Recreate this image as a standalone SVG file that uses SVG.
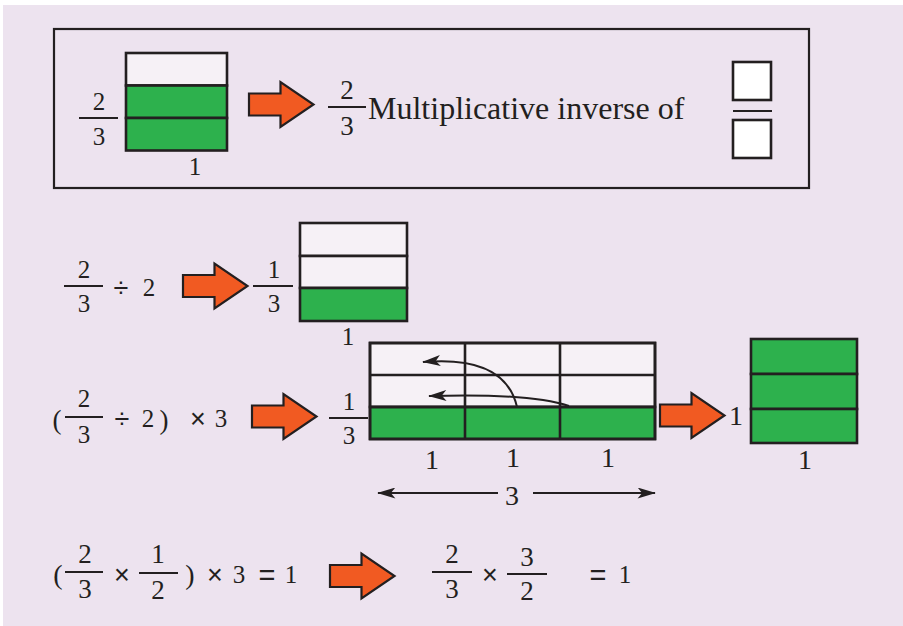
<svg xmlns="http://www.w3.org/2000/svg" width="903" height="626" viewBox="0 0 903 626">
<style>
  text { font-family: "Liberation Serif", "Times New Roman", serif; fill: #231f20; text-anchor: middle; }
  .t25 { font-size: 25px; }
  .t27 { font-size: 27px; }
  .t28 { font-size: 28px; }
  .t24 { font-size: 24px; }
  .sym { font-family: "Liberation Sans", Arial, sans-serif; font-size: 27px; }
  .eq { font-family: "Liberation Sans", Arial, sans-serif; font-size: 29px; }
  .big { font-size: 32px; text-anchor: start; }
  .ln { stroke: #231f20; stroke-width: 2.2; fill: none; }
  .cell { stroke: #231f20; stroke-width: 2.6; }
  .w { fill: #f6f1f6; }
  .g { fill: #2db14d; }
  .wb { fill: #ffffff; stroke: #231f20; stroke-width: 2.6; }
  .frame { fill: none; stroke: #231f20; stroke-width: 2.2; }
  .oarrow { fill: #f15a22; stroke: #231f20; stroke-width: 2.2; stroke-linejoin: miter; }
  .thin { stroke: #231f20; stroke-width: 2; fill: none; }
</style>
<defs>
  <path id="bigArrow" d="M0,-11 L31.5,-11 L31.5,-22.5 L64.5,0 L31.5,22.5 L31.5,11 L0,11 Z"/>
  <marker id="head" viewBox="0 0 20 12" refX="19" refY="6" markerWidth="19" markerHeight="11" markerUnits="userSpaceOnUse" orient="auto-start-reverse">
    <path d="M20,6 L0,0 L5,6 L0,12 Z" fill="#231f20"/>
  </marker>
</defs>

<rect x="3" y="5" width="900" height="621" fill="#ede3ef"/>

<g id="top-box">
  <rect class="frame" x="54" y="29" width="755" height="159"/>
</g>

<g id="bar-two-thirds">
  <line class="ln" x1="79" y1="118" x2="118" y2="118"/>
  <text class="t25" x="99" y="110">2</text>
  <text class="t25" x="99" y="145">3</text>
  <rect class="cell w" x="126" y="53" width="101" height="32.5"/>
  <rect class="cell g" x="126" y="85.5" width="101" height="32.5"/>
  <rect class="cell g" x="126" y="118" width="101" height="32.5"/>
  <text class="t25" x="195" y="175">1</text>
</g>

<g id="inverse-text">
  <line class="ln" x1="328" y1="107" x2="366" y2="107"/>
  <text class="t27" x="347" y="99">2</text>
  <text class="t27" x="347" y="135">3</text>
  <text class="big" x="368" y="119">Multiplicative inverse of</text>
</g>

<g id="blank-fraction">
  <rect class="wb" x="733" y="62" width="38" height="38"/>
  <line class="ln" x1="733" y1="111" x2="772" y2="111"/>
  <rect class="wb" x="733" y="120" width="38" height="38"/>
</g>

<g id="row2-expr">
  <line class="ln" x1="64" y1="286" x2="103" y2="286"/>
  <text class="t25" x="84" y="278">2</text>
  <text class="t25" x="84" y="312">3</text>
  <text class="sym" x="121" y="297">÷</text>
  <text class="t25" x="149" y="296">2</text>
</g>

<g id="row2-bar">
  <line class="ln" x1="253" y1="286" x2="293" y2="286"/>
  <text class="t25" x="274" y="278">1</text>
  <text class="t25" x="274" y="312">3</text>
  <rect class="cell w" x="300" y="223" width="107" height="33"/>
  <rect class="cell w" x="300" y="256" width="107" height="32"/>
  <rect class="cell g" x="300" y="288" width="107" height="33"/>
  <text class="t25" x="348" y="345">1</text>
</g>

<g id="row3-expr">
  <text class="t27" x="57" y="429">(</text>
  <line class="ln" x1="65" y1="417" x2="103" y2="417"/>
  <text class="t25" x="84" y="407">2</text>
  <text class="t25" x="84" y="443">3</text>
  <text class="sym" x="122" y="428">÷</text>
  <text class="t25" x="148" y="427">2</text>
  <text class="t27" x="164" y="429">)</text>
  <text class="sym" x="198" y="428">×</text>
  <text class="t25" x="221" y="427">3</text>
</g>

<g id="row3-grid">
  <line class="ln" x1="329" y1="418" x2="368" y2="418"/>
  <text class="t25" x="349" y="410">1</text>
  <text class="t25" x="349" y="444">3</text>
  <rect class="cell w" x="370" y="343" width="285" height="64"/>
  <rect class="cell g" x="370" y="407" width="285" height="32"/>
  <line class="cell" x1="370" y1="375" x2="655" y2="375"/>
  <line class="cell" x1="370" y1="407" x2="655" y2="407"/>
  <line class="cell" x1="465" y1="343" x2="465" y2="439"/>
  <line class="cell" x1="560" y1="343" x2="560" y2="439"/>
  <rect class="cell" x="370" y="343" width="285" height="96" fill="none"/>
  <text class="t28" x="432" y="469">1</text>
  <text class="t28" x="513" y="467">1</text>
  <text class="t28" x="608" y="467">1</text>
  <text class="t28" x="512" y="505">3</text>
</g>

<g id="row3-whole">
  <text class="t28" x="736" y="425">1</text>
  <rect class="cell g" x="751" y="339" width="106" height="35"/>
  <rect class="cell g" x="751" y="374" width="106" height="35"/>
  <rect class="cell g" x="751" y="409" width="106" height="34"/>
  <text class="t28" x="805" y="469">1</text>
</g>

<g id="row4-left">
  <text class="t28" x="58" y="584">(</text>
  <line class="ln" x1="65" y1="572" x2="103" y2="572"/>
  <text class="t27" x="85" y="563">2</text>
  <text class="t27" x="85" y="598">3</text>
  <text class="sym" x="122" y="584">×</text>
  <line class="ln" x1="139" y1="573" x2="178" y2="573"/>
  <text class="t27" x="158" y="563">1</text>
  <text class="t27" x="158" y="599">2</text>
  <text class="t28" x="190" y="584">)</text>
  <text class="sym" x="215" y="584">×</text>
  <text class="t25" x="239" y="583">3</text>
  <text class="eq" x="267" y="585">=</text>
  <text class="t25" x="291" y="583">1</text>
</g>

<g id="row4-right">
  <line class="ln" x1="432" y1="572" x2="472" y2="572"/>
  <text class="t27" x="452" y="563">2</text>
  <text class="t27" x="452" y="598">3</text>
  <text class="sym" x="490" y="584">×</text>
  <line class="ln" x1="507" y1="574" x2="547" y2="574"/>
  <text class="t27" x="527" y="566">3</text>
  <text class="t27" x="527" y="600">2</text>
  <text class="eq" x="598" y="585">=</text>
  <text class="t25" x="625" y="583">1</text>
</g>

<g id="connectors">
  <use href="#bigArrow" class="oarrow" transform="translate(249,104.5)"/>
  <use href="#bigArrow" class="oarrow" transform="translate(183,286)"/>
  <use href="#bigArrow" class="oarrow" transform="translate(252,416.5)"/>
  <use href="#bigArrow" class="oarrow" transform="translate(660,415.5)"/>
  <use href="#bigArrow" class="oarrow" transform="translate(330,576)"/>
  <path class="thin" d="M517,407 Q505,355 423,362" marker-end="url(#head)"/>
  <path class="thin" d="M569,406 Q530,393 429,396" marker-end="url(#head)"/>
  <line class="thin" x1="378" y1="493" x2="498" y2="493" marker-start="url(#head)"/>
  <line class="thin" x1="533" y1="493" x2="655" y2="493" marker-end="url(#head)"/>
</g>
</svg>
